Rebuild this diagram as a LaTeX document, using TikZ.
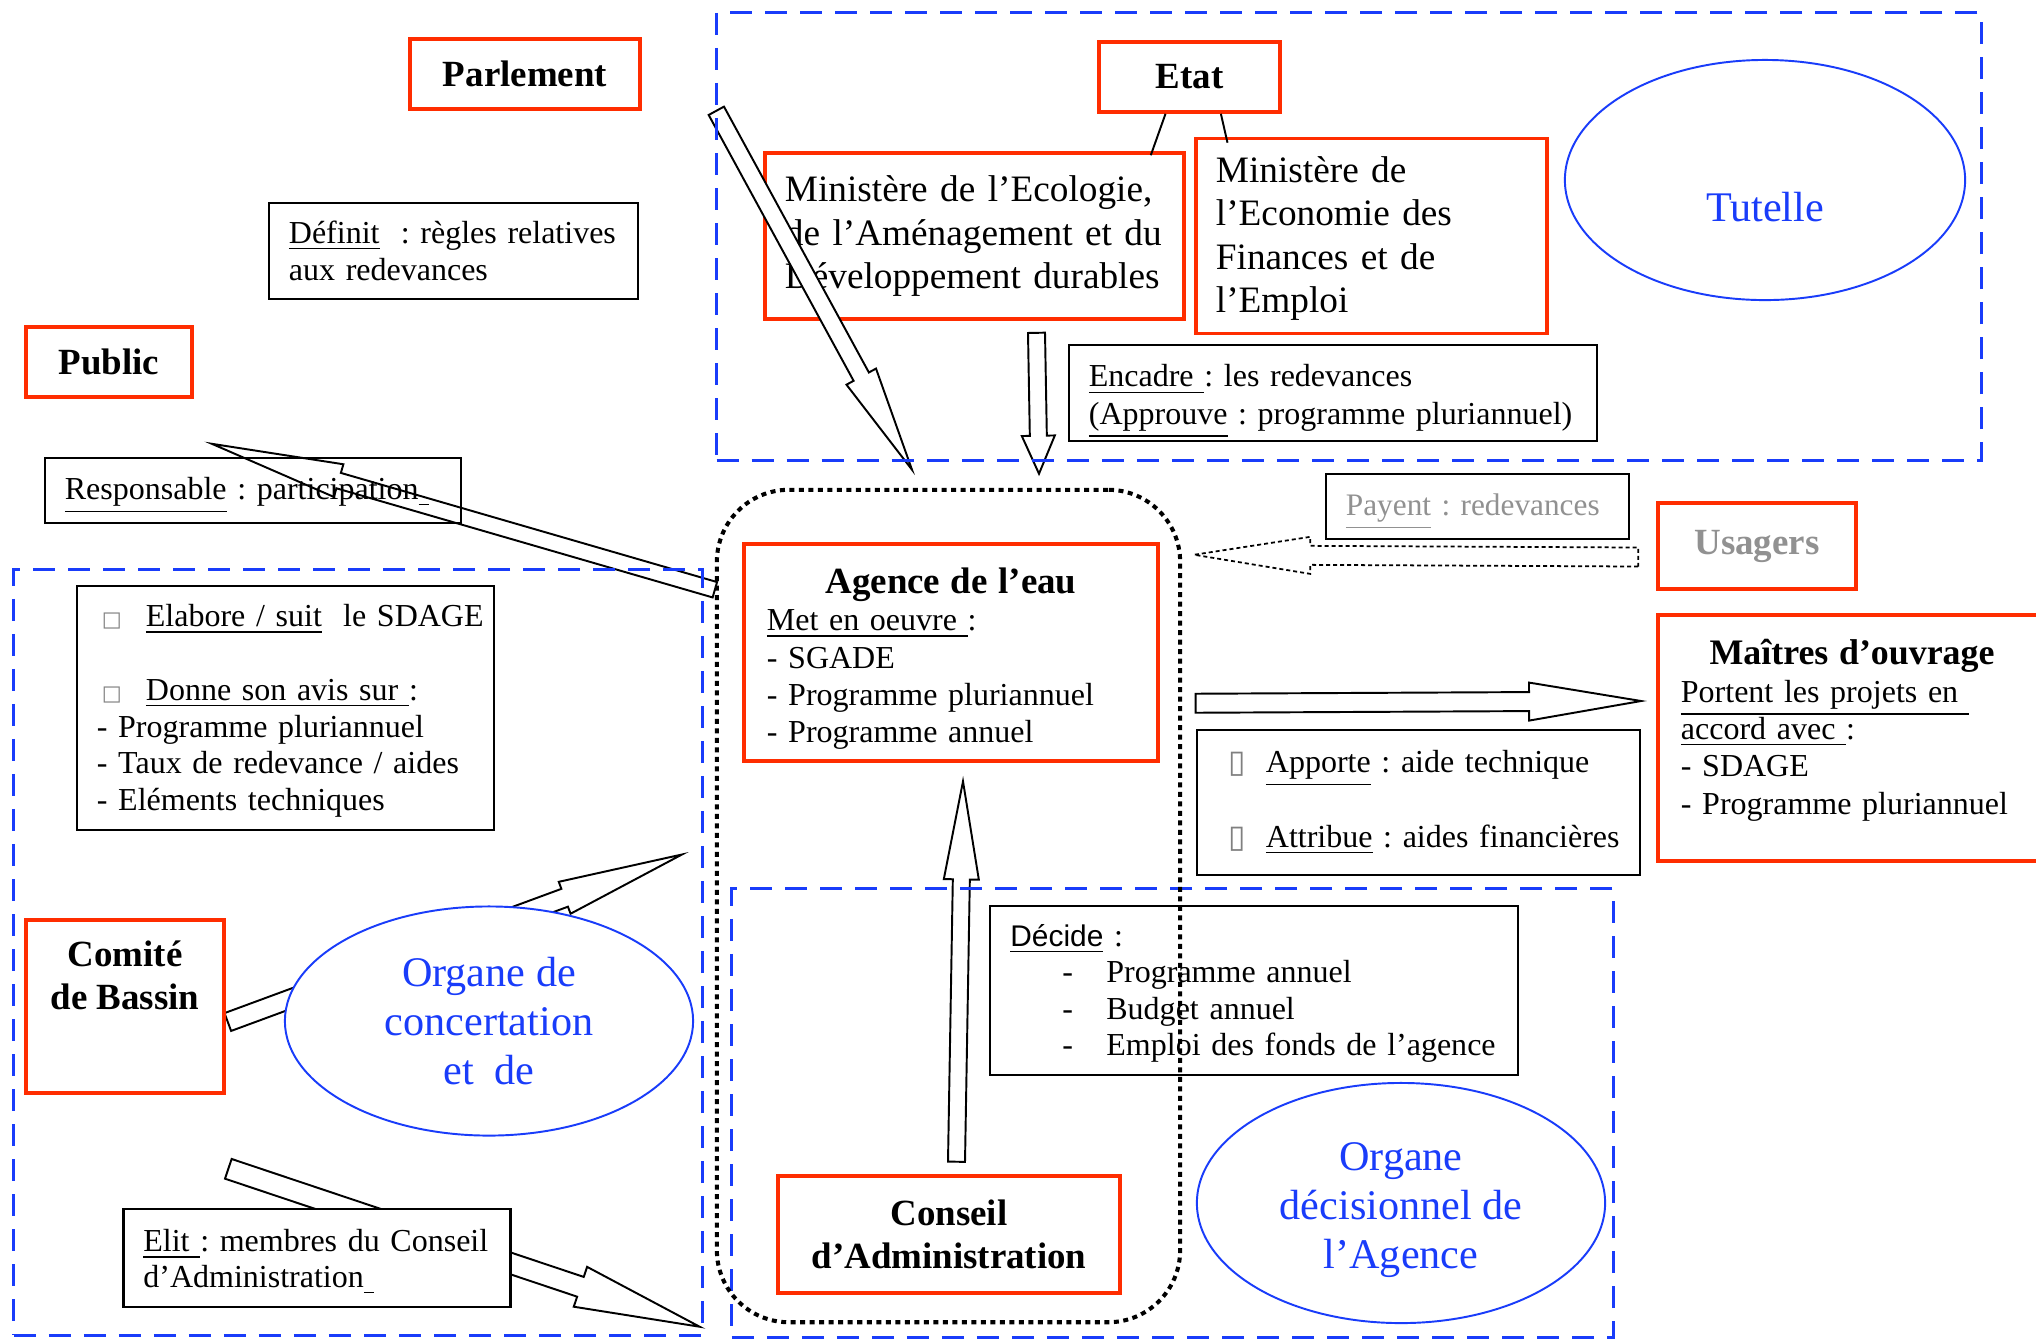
\documentclass[tikz,border=0pt]{standalone}
\usepackage{fontspec}
\setmainfont{Liberation Serif}
\setsansfont{Liberation Sans}
\newfontfamily\dvsfont{DejaVu Sans}
\usetikzlibrary{calc,shapes.geometric}
\definecolor{osred}{RGB}{255,45,0}
\definecolor{osblue}{RGB}{25,60,250}
\definecolor{osgray}{RGB}{145,145,145}
\frenchspacing
\pgfdeclarelayer{back}
\pgfdeclarelayer{front}
\pgfsetlayers{back,main,front}
% hollow block arrow: [style]{from}{to}{half shaft}{half head}{head length}
\newcommand{\hollowarrow}[6][]{%
  \coordinate (ha-h) at ($(#3)!#6!(#2)$);
  \draw[hollow,#1] ($(#2)!#4!90:(#3)$) -- ($(ha-h)!#4!-90:(#2)$) -- ($(ha-h)!#5!-90:(#2)$)
    -- (#3) -- ($(ha-h)!#5!90:(#2)$) -- ($(ha-h)!#4!90:(#2)$) -- ($(#2)!#4!-90:(#3)$) -- cycle;}
\newcommand\casecarre{\makebox[0.49cm][l]{\hspace{0.05cm}\textcolor{gray}{\dvsfont\fontsize{6}{6}\selectfont □}}}
\newcommand\caserect{\makebox[0.49cm][l]{\hspace{0.12cm}\textcolor{gray}{\dvsfont\fontsize{9}{9}\selectfont ▯}}}
\newcommand\itemtiret{\hspace*{0.52cm}\makebox[0.44cm][l]{-}}
\newcommand\haut[1]{\rule{0pt}{#1}}

\begin{document}
\begin{tikzpicture}[x=0.01cm,y=-0.01cm,font=\fontsize{9.1}{10.6}\selectfont,
  blackbox/.style={draw,line width=0.7pt,fill=white,inner xsep=0.2cm,inner ysep=0pt,align=left},
  redbox/.style={draw=osred,line width=1pt,fill=white,inner xsep=0.2cm,inner ysep=0pt},
  titre/.style={font=\fontsize{10.5}{12.3}\selectfont\bfseries,align=center},
  ministere/.style={redbox,align=left,font=\fontsize{10.6}{12.3}\selectfont},
  organe/.style={ellipse,draw=osblue,line width=0.55pt,fill=white,text=osblue,inner sep=0pt,
    align=center,font=\fontsize{12}{14}\selectfont},
  zone/.style={draw=osblue,line width=0.85pt,dash pattern=on 0.22cm off 0.13cm,inner sep=0pt},
  dotzone/.style={draw,line width=1.15pt,dash pattern=on 0.05cm off 0.045cm,
    rounded corners=0.72cm,inner sep=0pt},
  hollow/.style={draw,line width=0.55pt,line join=miter}]
\begin{pgfonlayer}{back}
  \fill[white] (0,0) rectangle (2036,1338);
\end{pgfonlayer}
\useasboundingbox (0,0) rectangle (2036,1338);

% acteurs du haut
\node[redbox,titre,minimum width=2.30cm,minimum height=0.70cm] (parlement) at (525,74) {Parlement};
\node[blackbox,minimum width=3.69cm,minimum height=0.96cm,text width=3.29cm] (definit) at (453.5,251)
  {\mbox{\underline{Définit}\ \ : règles relatives}\\aux redevances};
\node[redbox,titre,minimum width=1.66cm,minimum height=0.70cm] (public) at (109,362) {Public};
\node[blackbox,minimum width=4.16cm,minimum height=0.65cm,text width=3.76cm] (respons) at (253,490.5)
  {\mbox{\haut{0.32cm}\underline{Responsable} : participation\underline{\ }}};
\node[redbox,titre,minimum width=1.81cm,minimum height=0.70cm] (etat) at (1189.5,77) {Etat};
\node[ministere,minimum width=4.19cm,minimum height=1.66cm,text width=3.79cm] (ecologie) at (974.5,236)
  {\mbox{Ministère de l’Ecologie,}\\\mbox{de l’Aménagement et du}\\\mbox{Développement durables}};
\node[ministere,minimum width=3.51cm,minimum height=1.95cm,text width=3.11cm] (economie) at (1371.5,236)
  {\haut{0.31cm}Ministère de\\l’Economie des\\Finances et de\\l’Emploi};
\node[organe,minimum width=4cm,minimum height=2.4cm] (tutelle) at (1765,180) {\mbox{}\\[0.35cm]Tutelle};
\node[blackbox,minimum width=5.28cm,minimum height=0.96cm,text width=4.88cm] (encadre) at (1333,393)
  {\haut{0.39cm}\underline{Encadre }: les redevances\\\mbox{\underline{(Approuve} : programme pluriannuel)}};

% agence et usagers
\node[redbox,align=left,minimum width=4.14cm,minimum height=2.17cm,text width=3.68cm,inner xsep=0.23cm] (agence) at (951,652.5)
  {\haut{0.38cm}{\makebox[\hsize]{\fontsize{10.5}{12.3}\selectfont\bfseries Agence de l’eau}}\\
   \underline{Met en oeuvre }:\\- SGADE\\- Programme pluriannuel\\- Programme annuel};
\node[blackbox,text=osgray,minimum width=3.03cm,minimum height=0.65cm,text width=2.63cm,font=\fontsize{8.9}{10.6}\selectfont] (payent) at (1477.5,506.5)
  {\mbox{\haut{0.32cm}\underline{Payent} : redevances}};
\node[redbox,titre,text=osgray,minimum width=1.98cm,minimum height=0.86cm] (usagers) at (1757,546) {Usagers};
\node[redbox,align=left,minimum width=3.88cm,minimum height=2.46cm,text width=3.42cm,inner xsep=0.23cm] (maitres) at (1852,738)
  {{\makebox[\hsize]{\fontsize{10.2}{12}\selectfont\bfseries Maîtres d’ouvrage}}\\
   \underline{Portent les projets en }\\\underline{accord avec }:\\- SDAGE\\- Programme pluriannuel\\[-0.15cm]\mbox{}};
\node[blackbox,minimum width=4.43cm,minimum height=1.45cm,text width=4.03cm] (apporte) at (1418.5,802.5)
  {\mbox{\caserect\underline{Apporte} : aide technique}\\[0.37cm]\mbox{\caserect\underline{Attribue} : aides financières}};

% comite de bassin
\node[blackbox,minimum width=4.17cm,minimum height=2.44cm,text width=3.77cm,font=\fontsize{9.1}{10.4}\selectfont] (elabore) at (285.5,708)
  {\mbox{\haut{0.28cm}\casecarre\underline{Elabore / suit}\ \ le SDAGE}\\[0.37cm]\mbox{\casecarre\underline{Donne son avis sur }:}\\
   - Programme pluriannuel\\\mbox{- Taux de redevance / aides}\\- Eléments techniques};
\node[redbox,titre,minimum width=1.98cm,minimum height=1.73cm] (comite) at (125,1006.5) {Comité\\de Bassin\\[0.2cm]\mbox{}};
\node[organe,minimum width=4.08cm,minimum height=2.29cm] (concert) at (489,1021) {Organe de\\concertation\\et\ \ de};
\node[blackbox,minimum width=3.87cm,minimum height=0.98cm,text width=3.47cm,font=\fontsize{9.1}{10.2}\selectfont] (elit) at (317,1258)
  {\mbox{\haut{0.30cm}\underline{Elit }: membres du Conseil}\\d’Administration\underline{\ }};

% conseil d'administration
\node[blackbox,minimum width=5.28cm,minimum height=1.69cm,text width=4.87cm,font=\fontsize{9.1}{10.4}\selectfont] (decide) at (1254,990.5)
  {\haut{0.28cm}{\sffamily\fontsize{8.5}{10.4}\selectfont\underline{Décide}} :\\\itemtiret Programme annuel\\
   \itemtiret Budget annuel\\\mbox{\itemtiret Emploi des fonds de l’agence}};
\node[redbox,titre,minimum width=3.42cm,minimum height=1.17cm] (conseil) at (949,1234.5) {Conseil\\d’Administration};
\node[organe,minimum width=4.08cm,minimum height=2.4cm] (decision) at (1401,1203) {\haut{0.42cm}Organe\\décisionnel de\\l’Agence};

% zones
\begin{pgfonlayer}{front}
  \node[zone,minimum width=12.64cm,minimum height=4.47cm] (tutellezone) at (1349,236.5) {};
  \node[zone,minimum width=6.88cm,minimum height=7.65cm] (comitezone) at (358,952.5) {};
  \node[zone,minimum width=8.81cm,minimum height=4.48cm] (conseilzone) at (1172.5,1113) {};
  \node[dotzone,minimum width=4.63cm,minimum height=8.32cm] (agencezone) at (948.5,906) {};
\end{pgfonlayer}

% liens Etat
\draw[line width=0.55pt] ($(etat.south west)!0.37!(etat.south east)$) -- ($(ecologie.north west)!0.917!(ecologie.north east)+(0,4)$);
\draw[line width=0.55pt] ($(etat.south west)!0.67!(etat.south east)$) -- ($(economie.north west)!0.094!(economie.north east)+(0,6)$);

% fleches
\coordinate (parl-a) at ($(parlement.south east)+(74.5,0)$);
\coordinate (parl-b) at ($(agencezone.north)+(-36.5,-18)$);
\coordinate (eco-a) at ($(ecologie.south)+(62,12)$);
\coordinate (eco-b) at ($(agencezone.north)+(90.5,-14)$);
\coordinate (pub-a) at ($(agencezone.north west)+(0,102)$);
\coordinate (pub-b) at ($(public.south east)+(18,45)$);
\coordinate (com-a) at ($(comite.east)+(2,15.5)$);
\coordinate (com-b) at ($(concert.north)+(193,-51)$);
\coordinate (elit-a) at ($(comite.south east)+(2.5,74)$);
\coordinate (elit-b) at ($(comitezone.south east)+(-4,-10)$);
\coordinate (cons-a) at ($(conseil.north)+(7.5,-12.5)$);
\coordinate (cons-b) at ($(agence.south)+(12,18.5)$);
\coordinate (mo-a) at ($(apporte.north west)+(0,-25.5)$);
\coordinate (mo-b) at ($(maitres.west)+(-15,-37)$);
\coordinate (usa-a) at ($(usagers.west)+(-18,11)$);
\coordinate (usa-b) at ($(agencezone.north east)+(12,67)$);

\begin{pgfonlayer}{back}
  \hollowarrow[fill=white]{com-a}{com-b}{0.095cm}{0.17cm}{1.25cm}
  \hollowarrow[fill=white]{elit-a}{elit-b}{0.104cm}{0.21cm}{1.257cm}
\end{pgfonlayer}
\hollowarrow[fill=white]{parl-a}{parl-b}{0.087cm}{0.168cm}{1.06cm}
\hollowarrow[fill=white]{eco-a}{eco-b}{0.085cm}{0.165cm}{0.38cm}
\hollowarrow{pub-a}{pub-b}{0.08cm}{0.17cm}{1.32cm}
\hollowarrow[fill=white]{cons-a}{cons-b}{0.085cm}{0.175cm}{0.98cm}
\hollowarrow[fill=white]{mo-a}{mo-b}{0.095cm}{0.19cm}{1.12cm}
\hollowarrow[line width=0.5pt,dash pattern=on 0.04cm off 0.03cm]{usa-a}{usa-b}{0.095cm}{0.185cm}{1.16cm}
\end{tikzpicture}
\end{document}
